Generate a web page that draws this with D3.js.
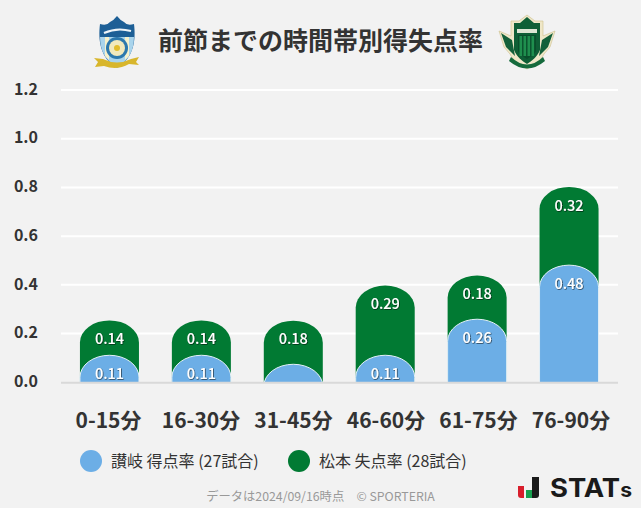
<!DOCTYPE html>
<meta charset="utf-8">
<style>
  html, body { margin: 0; padding: 0; background: #f2f2f2; }
  text { font-family: "Noto Sans CJK JP", "Noto Sans", sans-serif; }
</style>
<body>
<script src="https://d3js.org/d3.v7.min.js"></script>
<div id="chart"></div>
<script>
// values
const periods = ["0-15分", "16-30分", "31-45分", "46-60分", "61-75分", "76-90分"];
const sanukiRate = [0.111, 0.111, 0.074, 0.111, 0.259, 0.481];
const matsumotoRate = [0.143, 0.143, 0.179, 0.286, 0.179, 0.321];
const sanukiLabels = ["0.11", "0.11", "", "0.11", "0.26", "0.48"];
const matsumotoLabels = ["0.14", "0.14", "0.18", "0.29", "0.18", "0.32"];
const yTicks = [0, 0.2, 0.4, 0.6, 0.8, 1.0, 1.2];
const legendLabels = ["讃岐 得点率 (27試合)", "松本 失点率 (28試合)"];

const width = 641, height = 508;
const blue = "#6caee6", green = "#017a33";

const svg = d3.select("#chart").append("svg")
  .attr("width", width).attr("height", height)
  .style("display", "block");

const defs = svg.append("defs");
const shadow = defs.append("filter").attr("id", "shadow")
  .attr("x", "-20%").attr("y", "-20%").attr("width", "140%").attr("height", "140%");
shadow.append("feDropShadow").attr("dx", 0.6).attr("dy", 0.6)
  .attr("stdDeviation", 0.5).attr("flood-color", "#000").attr("flood-opacity", 0.8);

const x = d3.scaleBand().domain(periods).range([63.5, 615]).paddingInner(0.358).paddingOuter(0.179);
// the period labels are spaced a little wider than the bars
const xLabel = d3.scalePoint().domain(periods).range([108.5, 571]);
const y = d3.scaleLinear().domain([0, 1.2]).range([382.3, 90]);

// grid
svg.append("g").selectAll("line").data(yTicks.slice(1)).join("line")
  .attr("x1", 61).attr("x2", 618)
  .attr("y1", d => y(d)).attr("y2", d => y(d))
  .attr("stroke", "#fff").attr("stroke-width", 2);

// y axis labels
svg.append("g").selectAll("text").data(yTicks).join("text")
  .attr("x", 38).attr("y", d => y(d) - 1).attr("dy", "0.36em")
  .attr("text-anchor", "end")
  .attr("font-size", 16).attr("font-weight", 700).attr("fill", "#333")
  .text(d => d.toFixed(1));

// bar with rounded (elliptical) top, cut at the baseline
const base = y(0);
svg.append("clipPath").attr("id", "plot").append("rect")
  .attr("x", 0).attr("y", 0).attr("width", width).attr("height", base);

function roundTop(x0, w, top, bottom) {
  const rx = w / 2, ry = 22;
  return `M${x0},${bottom + 30}V${top + ry}A${rx},${ry} 0 0 1 ${x0 + w},${top + ry}V${bottom + 30}Z`;
}

const bars = svg.append("g").attr("clip-path", "url(#plot)");

bars.selectAll("path.green").data(periods).join("path")
  .attr("class", "green")
  .attr("d", (p, i) => roundTop(x(p), x.bandwidth(), y(sanukiRate[i] + matsumotoRate[i]), base))
  .attr("fill", green);

bars.selectAll("path.blue").data(periods).join("path")
  .attr("class", "blue")
  .attr("d", (p, i) => roundTop(x(p), x.bandwidth(), y(sanukiRate[i]), base))
  .attr("fill", blue)
  .attr("stroke", "#e4f0f8").attr("stroke-width", 1);

// baseline
svg.append("line").attr("x1", 61).attr("x2", 618)
  .attr("y1", base + 0.4).attr("y2", base + 0.4)
  .attr("stroke", "#d9d9d9").attr("stroke-width", 2);

// value labels
const valueLabel = sel => sel
  .attr("text-anchor", "middle").attr("dy", "0.36em")
  .attr("font-size", 14.5).attr("font-weight", 500).attr("fill", "#fff")
  .attr("filter", "url(#shadow)");

svg.append("g").selectAll("text").data(periods).join("text")
  .attr("x", p => x(p) + x.bandwidth() / 2)
  .attr("y", (p, i) => y(sanukiRate[i] + matsumotoRate[i]) + 18.5)
  .text((p, i) => matsumotoLabels[i])
  .call(valueLabel);

svg.append("g").selectAll("text").data(periods).join("text")
  .attr("x", p => x(p) + x.bandwidth() / 2)
  .attr("y", (p, i) => y(sanukiRate[i]) + 18.5)
  .text((p, i) => sanukiLabels[i])
  .call(valueLabel);

// x labels
svg.append("g").selectAll("text").data(periods).join("text")
  .attr("x", p => xLabel(p))
  .attr("y", 420).attr("dy", "0.36em")
  .attr("text-anchor", "middle")
  .attr("font-size", 21).attr("font-weight", 700).attr("fill", "#333")
  .text(p => p);

// title
svg.append("text").attr("x", 320.5).attr("y", 41).attr("dy", "0.36em")
  .attr("text-anchor", "middle")
  .attr("font-size", 25).attr("font-weight", 700).attr("fill", "#333")
  .text("前節までの時間帯別得失点率");

// legend
const legendX = [91, 299], legendColors = [blue, green];
const legend = svg.append("g").selectAll("g").data(legendLabels).join("g")
  .attr("transform", (d, i) => `translate(${legendX[i]},461)`);
legend.append("circle").attr("r", 11).attr("fill", (d, i) => legendColors[i]);
legend.append("text").attr("x", 20).attr("dy", "0.36em")
  .attr("font-size", 16).attr("fill", "#333")
  .text(d => d);

// source
svg.append("text").attr("x", 320.5).attr("y", 497).attr("dy", "0.36em")
  .attr("text-anchor", "middle").attr("font-size", 12.3).attr("fill", "#999")
  .text("データは2024/09/16時点　© SPORTERIA");

// sanuki crest
const crestA = svg.append("g").attr("transform", "translate(97,16)");
crestA.append("path").attr("d", "M3,8 Q10,10 13,6 Q17,4 20,0 Q23,4 27,6 Q30,10 37,8 C39,24 37,42 20,52 C3,42 1,24 3,8Z").attr("fill", "#1d5f96");
crestA.append("path").attr("d", "M3,21 H37 C37,34 32,44 20,52 C8,44 3,34 3,21Z").attr("fill", "#a9d4ec");
crestA.append("path").attr("d", "M8,21 H12 V44 L8,40Z M28,21 H32 V40 L28,44Z").attr("fill", "#f6f1cc");
crestA.append("path").attr("d", "M7,17 Q20,11 34,15").attr("fill", "none").attr("stroke", "#eef4f8").attr("stroke-width", 2);
crestA.append("circle").attr("cx", 20).attr("cy", 32).attr("r", 11).attr("fill", "#2c78ad");
crestA.append("circle").attr("cx", 20).attr("cy", 32).attr("r", 8).attr("fill", "#f1e9bd");
crestA.append("circle").attr("cx", 20).attr("cy", 32).attr("r", 3).attr("fill", "#e2bd2d");
crestA.append("path").attr("d", "M-3,42 L6,43 Q20,50 34,43 L42,41 L39,46 L42,49 L32,48 Q20,55 7,50 L-2,51 L1,46Z").attr("fill", "#d8b62c");

// matsumoto crest
const crestB = svg.append("g").attr("transform", "translate(498,14)");
crestB.append("path").attr("d", "M1,17 L13,22 L13,7 L21,7 L29,1 L37,7 L45,7 L45,22 L57,17 L52,33 L46,40 C42,48 36,51 29,55 C22,51 16,48 12,40 L6,33Z").attr("fill", "#efe7c8").attr("stroke", "#cdbf8b").attr("stroke-width", 0.6);
crestB.append("path").attr("d", "M3,19 L14,26 L17,42 L8,33Z M55,19 L44,26 L41,42 L50,33Z").attr("fill", "#13603a");
crestB.append("path").attr("d", "M16,9 L22,9 L29,3 L36,9 L42,9 V36 C39,43 34,47 29,50 C24,47 19,43 16,36Z").attr("fill", "#0f5f36");
crestB.append("path").attr("d", "M19,15 H39 V19 H19Z").attr("fill", "#dfe6d4");
crestB.append("path").attr("d", "M20,21 H38 V37 C36,41 32,43 29,45 C26,43 22,41 20,37Z").attr("fill", "#0a4f2c");
crestB.selectAll("rect.stripe").data(d3.range(4)).join("rect")
  .attr("class", "stripe").attr("x", d => 21.5 + d * 4).attr("y", 22)
  .attr("width", 2.6).attr("height", 20).attr("fill", "#1f8f4e");
crestB.append("path").attr("d", "M13,43 Q29,58 45,43 L47,47 Q29,62 11,47Z").attr("fill", "#156a3c");

// STATs logo
const logo = svg.append("g");
logo.append("path").attr("d", "M518,486 H524 V498 H521 Q518,498 518,495Z").attr("fill", "#d81e2c");
logo.append("rect").attr("x", 526).attr("y", 490).attr("width", 6).attr("height", 8).attr("fill", "#18a04f");
logo.append("path").attr("d", "M532,477 H539 V495 Q539,498 536,498 H532Z").attr("fill", "#1a1a1a");
const logoText = logo.append("text").attr("x", 550).attr("y", 497)
  .attr("font-size", 26).attr("font-weight", 700)
  .attr("fill", "#1a1a1a").attr("textLength", 82).attr("lengthAdjust", "spacingAndGlyphs")
  .style("font-family", "Inter");
logoText.append("tspan").text("STAT");
logoText.append("tspan").attr("font-size", 20).text("s");
</script>
</body>
